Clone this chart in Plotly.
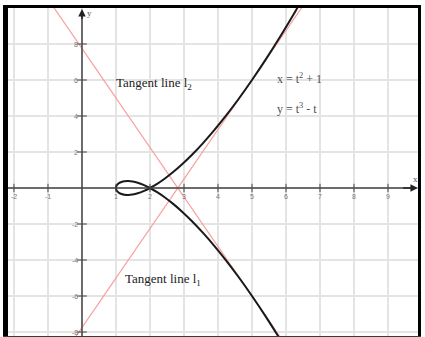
import plotly.graph_objects as go

# Curve points (x = t^2 + 1, y = t^3 - t)
curve_x = [6.76, 6.29, 5.84, 5.41, 5.00, 4.61, 4.24, 3.89, 3.56, 3.25, 2.96, 2.69, 2.44, 2.21,
           2.00, 1.81, 1.64, 1.49, 1.36, 1.25, 1.16, 1.09, 1.04, 1.01, 1.00,
           1.01, 1.04, 1.09, 1.16, 1.25, 1.36, 1.49, 1.64, 1.81, 2.00,
           2.21, 2.44, 2.69, 2.96, 3.25, 3.56, 3.89, 4.24, 4.61, 5.00, 5.41, 5.84, 6.29, 6.76]
curve_y = [-11.424, -9.867, -8.448, -7.161, -6.0, -4.959, -4.032, -3.213, -2.496, -1.875, -1.344, -0.897, -0.528, -0.231,
           0.0, 0.171, 0.288, 0.357, 0.384, 0.375, 0.336, 0.273, 0.192, 0.099, 0.0,
           -0.099, -0.192, -0.273, -0.336, -0.375, -0.384, -0.357, -0.288, -0.171, 0.0,
           0.231, 0.528, 0.897, 1.344, 1.875, 2.496, 3.213, 4.032, 4.959, 6.0, 7.161, 8.448, 9.867, 11.424]

# Tangent lines (end points)
l1_x = [-1.0, 7.0]
l1_y = [-10.5, 11.5]
l2_x = [-1.0, 7.0]
l2_y = [10.5, -11.5]

x_ticks = [-2, -1, 1, 2, 3, 4, 5, 6, 7, 8, 9]
y_ticks = [-8, -6, -4, -2, 2, 4, 6, 8]

X_RANGE = [-2.176, 9.882]
Y_RANGE = [-8.278, 10.0]
AXIS_COLOR = "#444444"
LINE_RED = "#f7a0a0"

fig = go.Figure()

fig.add_trace(go.Scatter(x=l1_x, y=l1_y, mode="lines",
                         line=dict(color=LINE_RED, width=1.2), hoverinfo="skip"))
fig.add_trace(go.Scatter(x=l2_x, y=l2_y, mode="lines",
                         line=dict(color=LINE_RED, width=1.2), hoverinfo="skip"))
fig.add_trace(go.Scatter(x=curve_x, y=curve_y, mode="lines",
                         line=dict(color="#1a1a1a", width=2, shape="spline"), hoverinfo="skip"))

# tick marks on the axes
fig.add_trace(go.Scatter(x=x_ticks, y=[0] * len(x_ticks), mode="markers",
                         marker=dict(symbol="line-ns-open", size=6, color=AXIS_COLOR,
                                     line=dict(color=AXIS_COLOR, width=1)), hoverinfo="skip"))
fig.add_trace(go.Scatter(x=[0] * len(y_ticks), y=y_ticks, mode="markers",
                         marker=dict(symbol="line-ew-open", size=7, color=AXIS_COLOR,
                                     line=dict(color=AXIS_COLOR, width=1)), hoverinfo="skip"))

shapes = []
# axes lines
shapes.append(dict(type="line", xref="x", yref="y", x0=X_RANGE[0], x1=9.8, y0=0, y1=0,
                   line=dict(color=AXIS_COLOR, width=1.5), layer="above"))
shapes.append(dict(type="line", xref="x", yref="y", x0=0, x1=0, y0=Y_RANGE[0], y1=9.7,
                   line=dict(color=AXIS_COLOR, width=1.5), layer="above"))
# frame
for x0, x1, y0, y1, col in [(-0.0122, 0.0, 0.0, 1.0091, "black"),
                            (-0.0122, 1.0073, 1.0, 1.0091, "black"),
                            (1.0, 1.0073, 0.0, 1.0091, "black"),
                            (-0.0122, 1.0073, 0.0, 0.003, "#3a3a3a")]:
    shapes.append(dict(type="rect", xref="paper", yref="paper", x0=x0, x1=x1, y0=y0, y1=y1,
                       fillcolor=col, line=dict(width=0), layer="above"))

annotations = []
# arrowheads
annotations.append(dict(x=9.88, y=0, ax=9.4, ay=0, xref="x", yref="y", axref="x", ayref="y",
                        text="", showarrow=True, arrowhead=2, arrowsize=1, arrowwidth=1.5,
                        arrowcolor="#222222"))
annotations.append(dict(x=0, y=9.95, ax=0, ay=9.3, xref="x", yref="y", axref="x", ayref="y",
                        text="", showarrow=True, arrowhead=2, arrowsize=1, arrowwidth=1.5,
                        arrowcolor="#222222"))
tick_font = dict(family="Liberation Sans", size=7, color="#777777")
for v in x_ticks:
    annotations.append(dict(x=v, y=0, xref="x", yref="y", text=str(v), showarrow=False,
                            xanchor="center", yanchor="top", yshift=-3, font=tick_font))
for v in y_ticks:
    annotations.append(dict(x=0, y=v, xref="x", yref="y", text=str(v), showarrow=False,
                            xanchor="right", yanchor="middle", xshift=-2, font=tick_font))
annotations.append(dict(x=9.82, y=0, xref="x", yref="y", text="x", showarrow=False,
                        xanchor="center", yanchor="bottom", yshift=2,
                        font=dict(family="Liberation Serif", size=9, color="#555555")))
annotations.append(dict(x=0.1, y=9.75, xref="x", yref="y", text="y", showarrow=False,
                        xanchor="left", yanchor="middle",
                        font=dict(family="Liberation Serif", size=9, color="#555555")))

label_font = dict(family="Liberation Serif", size=13, color="#222222")
eq_font = dict(family="Liberation Serif", size=12, color="#505050")
annotations.append(dict(x=0.94, y=5.83, xref="x", yref="y", text="Tangent line l<sub>2</sub>",
                        showarrow=False, xanchor="left", yanchor="middle", font=label_font))
annotations.append(dict(x=1.21, y=-5.11, xref="x", yref="y", text="Tangent line l<sub>1</sub>",
                        showarrow=False, xanchor="left", yanchor="middle", font=label_font))
annotations.append(dict(x=5.68, y=6.11, xref="x", yref="y", text="x = t<sup>2</sup> + 1",
                        showarrow=False, xanchor="left", yanchor="middle", font=eq_font))
annotations.append(dict(x=5.68, y=4.44, xref="x", yref="y", text="y = t<sup>3</sup> - t",
                        showarrow=False, xanchor="left", yanchor="middle", font=eq_font))

fig.update_layout(
    width=425, height=337,
    margin=dict(l=8, r=7, t=8, b=0),
    paper_bgcolor="white", plot_bgcolor="white",
    showlegend=False,
    shapes=shapes, annotations=annotations,
    xaxis=dict(range=X_RANGE, dtick=1, tick0=0, showgrid=True, gridcolor="#e4e4e4", gridwidth=1.5,
               zeroline=False, showticklabels=False, ticks="", showline=False, fixedrange=True),
    yaxis=dict(range=Y_RANGE, dtick=2, tick0=0, showgrid=True, gridcolor="#e4e4e4", gridwidth=1.5,
               zeroline=False, showticklabels=False, ticks="", showline=False, fixedrange=True),
)

fig.write_html("out.html", config={"displayModeBar": False},
               post_script="document.body.style.margin='0';document.body.style.padding='0';")
